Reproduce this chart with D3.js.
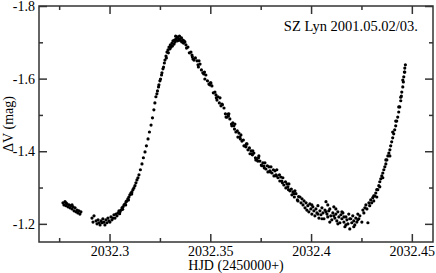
<!DOCTYPE html>
<html>
<head>
<meta charset="utf-8">
<script src="https://cdn.jsdelivr.net/npm/d3@7"></script>
<style>
  body { margin: 0; background: #fff; }
  svg text { font-family: "Liberation Serif", "Times New Roman", serif; }
</style>
</head>
<body>
<svg id="chart" width="436" height="273"></svg>
<script>
// light curve of SZ Lyn
const earlyHjd = [2032.2769, 2032.2774, 2032.2779, 2032.2784, 2032.2789, 2032.2794, 2032.2799, 2032.2804, 2032.2809, 2032.2814,
  2032.2819, 2032.2824, 2032.2829, 2032.2834, 2032.2839, 2032.2843, 2032.2848, 2032.2853, 2032.2858, 2032.2784, 2032.2814];
const earlyDv = [-1.258, -1.252, -1.261, -1.250, -1.255, -1.247, -1.252, -1.244, -1.250, -1.241,
  -1.247, -1.236, -1.244, -1.233, -1.238, -1.230, -1.236, -1.227, -1.233, -1.258, -1.252];

const riseHjd = [2032.2913, 2032.2918, 2032.2923, 2032.2933, 2032.2938, 2032.2943, 2032.2948, 2032.2953, 2032.2958, 2032.2963,
  2032.2967, 2032.2972, 2032.2977, 2032.2982, 2032.2987, 2032.2992, 2032.2997, 2032.3002, 2032.3007, 2032.3012,
  2032.3017, 2032.3022, 2032.3027, 2032.3032, 2032.3037, 2032.3042, 2032.3047, 2032.3052, 2032.3057, 2032.3062,
  2032.3067, 2032.3072, 2032.3077, 2032.3082, 2032.3086, 2032.3091, 2032.3096, 2032.3101, 2032.3106, 2032.3111,
  2032.3116, 2032.3121, 2032.3126, 2032.3131, 2032.3136, 2032.3141, 2032.3146, 2032.3153, 2032.3161, 2032.3168,
  2032.3176, 2032.3183, 2032.3191, 2032.3198, 2032.3206, 2032.3213, 2032.3220, 2032.3225, 2032.3230, 2032.3235,
  2032.3238, 2032.3243, 2032.3245, 2032.3250, 2032.3253, 2032.3258, 2032.3260, 2032.3265, 2032.3268, 2032.3272,
  2032.3050, 2032.3065, 2032.3080, 2032.3094, 2032.3110];
const riseDv = [-1.216, -1.205, -1.222, -1.208, -1.200, -1.211, -1.203, -1.197, -1.208, -1.203,
  -1.214, -1.205, -1.197, -1.211, -1.203, -1.216, -1.208, -1.205, -1.219, -1.211,
  -1.216, -1.225, -1.216, -1.227, -1.222, -1.230, -1.236, -1.233, -1.238, -1.244,
  -1.247, -1.252, -1.255, -1.261, -1.263, -1.269, -1.274, -1.280, -1.285, -1.288,
  -1.294, -1.299, -1.305, -1.313, -1.321, -1.327, -1.335, -1.349, -1.365, -1.382,
  -1.398, -1.415, -1.434, -1.453, -1.472, -1.492, -1.514, -1.533, -1.550, -1.558,
  -1.566, -1.577, -1.583, -1.594, -1.599, -1.610, -1.616, -1.627, -1.632, -1.643,
  -1.228, -1.240, -1.252, -1.266, -1.282];

const peakHjd = [2032.3275, 2032.3280, 2032.3282, 2032.3285, 2032.3290, 2032.3292, 2032.3295, 2032.3300, 2032.3302, 2032.3305,
  2032.3310, 2032.3312, 2032.3315, 2032.3320, 2032.3322, 2032.3325, 2032.3328, 2032.3330, 2032.3335, 2032.3337,
  2032.3339, 2032.3344, 2032.3347, 2032.3349, 2032.3354, 2032.3357, 2032.3359, 2032.3364, 2032.3367, 2032.3369];
const peakDv = [-1.651, -1.662, -1.657, -1.673, -1.679, -1.671, -1.687, -1.682, -1.693, -1.687,
  -1.698, -1.690, -1.704, -1.695, -1.706, -1.701, -1.717, -1.709, -1.715, -1.704,
  -1.712, -1.706, -1.717, -1.709, -1.704, -1.712, -1.701, -1.706, -1.698, -1.704];

const fallHjd = [2032.3374, 2032.3382, 2032.3379, 2032.3389, 2032.3396, 2032.3404, 2032.3409, 2032.3411, 2032.3419, 2032.3426,
  2032.3434, 2032.3439, 2032.3441, 2032.3449, 2032.3456, 2032.3463, 2032.3468, 2032.3471, 2032.3478, 2032.3486,
  2032.3493, 2032.3498, 2032.3500, 2032.3508, 2032.3515, 2032.3523, 2032.3528, 2032.3530, 2032.3538, 2032.3545,
  2032.3553, 2032.3558, 2032.3560, 2032.3568, 2032.3575, 2032.3583, 2032.3588, 2032.3590, 2032.3597, 2032.3605,
  2032.3612, 2032.3617, 2032.3620, 2032.3627, 2032.3634, 2032.3642, 2032.3647, 2032.3649, 2032.3657, 2032.3664,
  2032.3672, 2032.3677, 2032.3679, 2032.3687, 2032.3694, 2032.3702, 2032.3706, 2032.3709, 2032.3716, 2032.3724,
  2032.3731, 2032.3736, 2032.3739, 2032.3746, 2032.3753, 2032.3761, 2032.3766, 2032.3768, 2032.3776, 2032.3783,
  2032.3791, 2032.3796, 2032.3798, 2032.3806, 2032.3813, 2032.3821, 2032.3826, 2032.3828, 2032.3836, 2032.3843,
  2032.3850, 2032.3855, 2032.3858, 2032.3865, 2032.3873, 2032.3880, 2032.3885, 2032.3888, 2032.3895, 2032.3902,
  2032.3910, 2032.3915, 2032.3917, 2032.3925, 2032.3932, 2032.3938,
  2032.3414, 2032.3444, 2032.3473, 2032.3503, 2032.3533, 2032.3548, 2032.3578, 2032.3592, 2032.3607, 2032.3622,
  2032.3637, 2032.3652, 2032.3667, 2032.3682, 2032.3697, 2032.3711, 2032.3726, 2032.3741, 2032.3756, 2032.3771,
  2032.3786, 2032.3801, 2032.3816, 2032.3830, 2032.3845, 2032.3860, 2032.3875, 2032.3890, 2032.3905, 2032.3920,
  2032.3935];
const fallDv = [-1.701, -1.684, -1.693, -1.687, -1.671, -1.673, -1.665, -1.660, -1.651, -1.657,
  -1.649, -1.638, -1.632, -1.640, -1.624, -1.616, -1.613, -1.618, -1.610, -1.594,
  -1.585, -1.583, -1.588, -1.580, -1.561, -1.563, -1.555, -1.547, -1.550, -1.533,
  -1.525, -1.530, -1.528, -1.519, -1.503, -1.494, -1.502, -1.497, -1.489, -1.475,
  -1.478, -1.470, -1.461, -1.453, -1.456, -1.450, -1.439, -1.434, -1.428, -1.431,
  -1.415, -1.412, -1.420, -1.404, -1.409, -1.401, -1.393, -1.390, -1.395, -1.382,
  -1.376, -1.373, -1.382, -1.373, -1.362, -1.368, -1.359, -1.354, -1.351, -1.360,
  -1.357, -1.346, -1.343, -1.340, -1.349, -1.346, -1.335, -1.332, -1.327, -1.335,
  -1.329, -1.318, -1.313, -1.307, -1.316, -1.310, -1.302, -1.294, -1.291, -1.296,
  -1.288, -1.283, -1.274, -1.283, -1.266, -1.275,
  -1.654, -1.649, -1.599, -1.588, -1.541, -1.547, -1.494, -1.503, -1.470, -1.475,
  -1.439, -1.445, -1.415, -1.420, -1.393, -1.401, -1.376, -1.387, -1.360, -1.368,
  -1.343, -1.357, -1.332, -1.349, -1.318, -1.327, -1.299, -1.310, -1.280, -1.291,
  -1.263];

const minHjd = [2032.3945, 2032.3950, 2032.3955, 2032.3960, 2032.3965, 2032.3970, 2032.3975, 2032.3979, 2032.3984, 2032.3989,
  2032.3994, 2032.3999, 2032.4004, 2032.4009, 2032.4014, 2032.4019, 2032.4024, 2032.4029, 2032.4034, 2032.4039,
  2032.4044, 2032.4049, 2032.4054, 2032.4059, 2032.4064, 2032.4069, 2032.4074, 2032.4079, 2032.4083, 2032.4088,
  2032.4093, 2032.4098, 2032.4103, 2032.4108, 2032.4113, 2032.4118, 2032.4123, 2032.4128, 2032.4133, 2032.4138,
  2032.4143, 2032.4148, 2032.4153, 2032.4158, 2032.4163, 2032.4168, 2032.4173, 2032.4178, 2032.4183, 2032.4187,
  2032.4192, 2032.4197, 2032.4202, 2032.4207, 2032.4212, 2032.4217, 2032.4222, 2032.4227, 2032.4232, 2032.4237,
  2032.4242, 2032.4252, 2032.4257, 2032.4262, 2032.4267, 2032.4272, 2032.4277, 2032.4282,
  2032.4004, 2032.4034, 2032.4054, 2032.4074, 2032.4093, 2032.4113, 2032.4133, 2032.4153, 2032.4173, 2032.4192,
  2032.4212, 2032.4232, 2032.4163, 2032.4123, 2032.4083];
const minDv = [-1.274, -1.258, -1.269, -1.252, -1.263, -1.244, -1.258, -1.238, -1.250, -1.233,
  -1.255, -1.241, -1.227, -1.247, -1.236, -1.222, -1.241, -1.230, -1.250, -1.216,
  -1.236, -1.225, -1.244, -1.230, -1.214, -1.238, -1.261, -1.227, -1.219, -1.236,
  -1.241, -1.222, -1.211, -1.230, -1.247, -1.216, -1.227, -1.208, -1.233, -1.219,
  -1.203, -1.225, -1.214, -1.230, -1.205, -1.192, -1.219, -1.211, -1.200, -1.227,
  -1.186, -1.214, -1.203, -1.222, -1.208, -1.197, -1.216, -1.205, -1.227, -1.214,
  -1.222, -1.205, -1.238, -1.230, -1.244, -1.252, -1.241, -1.203,
  -1.252, -1.227, -1.214, -1.233, -1.205, -1.222, -1.200, -1.233, -1.197, -1.214,
  -1.192, -1.211, -1.219, -1.241, -1.252];

const lastHjd = [2032.4287, 2032.4291, 2032.4296, 2032.4301, 2032.4306, 2032.4311, 2032.4316, 2032.4321, 2032.4326, 2032.4331,
  2032.4336, 2032.4341, 2032.4346, 2032.4351, 2032.4356, 2032.4361, 2032.4366, 2032.4371, 2032.4376, 2032.4381,
  2032.4386, 2032.4391, 2032.4395, 2032.4400, 2032.4405, 2032.4410, 2032.4415, 2032.4420, 2032.4425, 2032.4430,
  2032.4435, 2032.4440, 2032.4445, 2032.4448, 2032.4450, 2032.4455, 2032.4458, 2032.4460, 2032.4463, 2032.4465,
  2032.4468, 2032.4356, 2032.4371, 2032.4391, 2032.4405, 2032.4420, 2032.4435, 2032.4445, 2032.4455, 2032.4465,
  2032.4311, 2032.4326, 2032.4341];
const lastDv = [-1.258, -1.250, -1.266, -1.258, -1.272, -1.263, -1.277, -1.285, -1.274, -1.294,
  -1.305, -1.316, -1.324, -1.332, -1.340, -1.349, -1.357, -1.365, -1.376, -1.387,
  -1.395, -1.404, -1.415, -1.426, -1.437, -1.448, -1.459, -1.470, -1.483, -1.494,
  -1.508, -1.522, -1.539, -1.552, -1.563, -1.577, -1.591, -1.605, -1.618, -1.629,
  -1.638, -1.327, -1.376, -1.387, -1.453, -1.483, -1.522, -1.549, -1.596, -1.618,
  -1.277, -1.294, -1.302];

const xMajor = [2032.3, 2032.35, 2032.4, 2032.45];
const xMinor = [2032.275, 2032.325, 2032.375, 2032.425];
const yMajor = [-1.8, -1.6, -1.4, -1.2];
const yMinor = [-1.7, -1.5, -1.3];

const hjd = [].concat(earlyHjd, riseHjd, peakHjd, fallHjd, minHjd, lastHjd);
const dv = [].concat(earlyDv, riseDv, peakDv, fallDv, minDv, lastDv);
const points = hjd.map((h, i) => ({ hjd: h, dv: dv[i] }));

const width = 436, height = 273;
const margin = { top: 6, right: 3, bottom: 31, left: 39 };
const axisColor = '#333';

const svg = d3.select('#chart');

const x = d3.scaleLinear()
  .domain([2032.265, 2032.4605])
  .range([margin.left, width - margin.right]);
const y = d3.scaleLinear()
  .domain([-1.8, -1.15])
  .range([margin.top, height - margin.bottom]);

function styleAxis(g) {
  g.select('.domain').remove();
  g.selectAll('line').attr('stroke', axisColor).attr('stroke-width', 1.5);
  g.selectAll('text')
    .attr('fill', '#000')
    .style('font-family', '"Liberation Serif", "Times New Roman", serif')
    .style('font-size', '14px');
}

// bottom: labelled major + minor
svg.append('g')
  .attr('transform', `translate(0,${height - margin.bottom})`)
  .call(d3.axisBottom(x).tickValues(xMajor).tickSize(-8).tickPadding(4).tickFormat(d3.format('')))
  .call(styleAxis);
svg.append('g')
  .attr('transform', `translate(0,${height - margin.bottom})`)
  .call(d3.axisBottom(x).tickValues(xMinor).tickSize(-4).tickFormat(''))
  .call(styleAxis);

// top mirror
svg.append('g')
  .attr('transform', `translate(0,${margin.top})`)
  .call(d3.axisTop(x).tickValues(xMajor).tickSize(-8).tickFormat(''))
  .call(styleAxis);
svg.append('g')
  .attr('transform', `translate(0,${margin.top})`)
  .call(d3.axisTop(x).tickValues(xMinor).tickSize(-4).tickFormat(''))
  .call(styleAxis);

// left: labelled major + minor
svg.append('g')
  .attr('transform', `translate(${margin.left},0)`)
  .call(d3.axisLeft(y).tickValues(yMajor).tickSize(-8).tickPadding(4).tickFormat(d3.format('.1f')))
  .call(styleAxis);
svg.append('g')
  .attr('transform', `translate(${margin.left},0)`)
  .call(d3.axisLeft(y).tickValues(yMinor).tickSize(-4).tickFormat(''))
  .call(styleAxis);

// right mirror
svg.append('g')
  .attr('transform', `translate(${width - margin.right},0)`)
  .call(d3.axisRight(y).tickValues(yMajor).tickSize(-8).tickFormat(''))
  .call(styleAxis);
svg.append('g')
  .attr('transform', `translate(${width - margin.right},0)`)
  .call(d3.axisRight(y).tickValues(yMinor).tickSize(-4).tickFormat(''))
  .call(styleAxis);

// plain hyphen for negatives, as in the original
svg.selectAll('.tick text').text(function () { return this.textContent.replace('\u2212', '-'); });

// frame
svg.append('rect')
  .attr('x', margin.left)
  .attr('y', margin.top)
  .attr('width', width - margin.left - margin.right)
  .attr('height', height - margin.top - margin.bottom)
  .attr('fill', 'none')
  .attr('stroke', axisColor)
  .attr('stroke-width', 1.5);

// points
svg.append('g')
  .selectAll('circle')
  .data(points)
  .join('circle')
  .attr('cx', d => x(d.hjd))
  .attr('cy', d => y(d.dv))
  .attr('r', 1.6)
  .attr('fill', '#000');

// titles
svg.append('text')
  .attr('x', (margin.left + width - margin.right) / 2)
  .attr('y', 270)
  .attr('text-anchor', 'middle')
  .style('font-size', '14px')
  .text('HJD (2450000+)');

svg.append('text')
  .attr('transform', `translate(13,${(margin.top + height - margin.bottom) / 2}) rotate(-90)`)
  .attr('text-anchor', 'middle')
  .style('font-size', '14px')
  .text('ΔV (mag)');

svg.append('text')
  .attr('x', 418)
  .attr('y', 31)
  .attr('text-anchor', 'end')
  .style('font-size', '14.5px')
  .text('SZ Lyn 2001.05.02/03.');
</script>
</body>
</html>
